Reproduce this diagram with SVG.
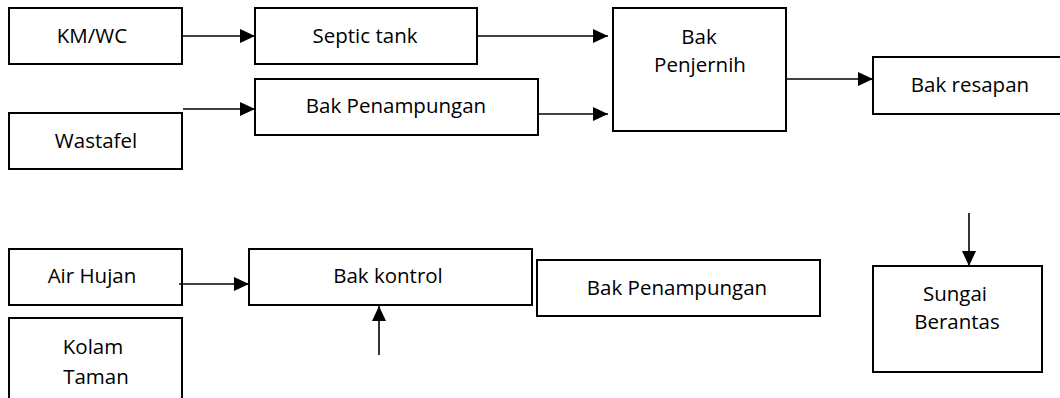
<svg xmlns="http://www.w3.org/2000/svg" width="1060" height="398" viewBox="0 0 1060 398">
<style>
.box{fill:#fff;stroke:#000;stroke-width:2}
.lbl{font-family:"Open Sans","Liberation Sans",sans-serif;font-size:20.5px;fill:#000;text-anchor:middle}
.con{stroke:#000;stroke-width:1.6;fill:none;marker-end:url(#ah)}
</style>
<defs>
<marker id="ah" markerUnits="userSpaceOnUse" markerWidth="16" markerHeight="16" refX="15" refY="7" orient="auto">
<path d="M0,0 L15,7 L0,14 Z" fill="#000"/>
</marker>
</defs>
<rect width="1060" height="398" fill="#fff"/>
<g id="kmwc"><rect class="box" x="9" y="8" width="173" height="56"/><text class="lbl" x="92" y="43">KM/WC</text></g>
<g id="septic"><rect class="box" x="255" y="8" width="222" height="56"/><text class="lbl" x="365" y="43">Septic tank</text></g>
<g id="wastafel"><rect class="box" x="9" y="113" width="173" height="56"/><text class="lbl" x="96" y="148">Wastafel</text></g>
<g id="penampungan1"><rect class="box" x="255" y="79" width="283" height="56"/><text class="lbl" x="396" y="113">Bak Penampungan</text></g>
<g id="penjernih"><rect class="box" x="613" y="8" width="173" height="123"/><text class="lbl" x="699" y="44">Bak</text><text class="lbl" x="700" y="72">Penjernih</text></g>
<g id="resapan"><rect class="box" x="873" y="57" width="200" height="57"/><text class="lbl" x="970" y="92">Bak resapan</text></g>
<g id="airhujan"><rect class="box" x="9" y="249" width="173" height="56"/><text class="lbl" x="92" y="283">Air Hujan</text></g>
<g id="kolam"><rect class="box" x="9" y="318" width="173" height="100"/><text class="lbl" x="93" y="354">Kolam</text><text class="lbl" x="96" y="384">Taman</text></g>
<g id="kontrol"><rect class="box" x="249" y="249" width="283" height="56"/><text class="lbl" x="388" y="283">Bak kontrol</text></g>
<g id="penampungan2"><rect class="box" x="537" y="260" width="283" height="56"/><text class="lbl" x="677" y="295">Bak Penampungan</text></g>
<g id="sungai"><rect class="box" x="873" y="266" width="169" height="106"/><text class="lbl" x="955" y="301">Sungai</text><text class="lbl" x="957" y="329">Berantas</text></g>
<g id="connectors">
<line class="con" x1="183" y1="36" x2="255" y2="36"/>
<line class="con" x1="183" y1="109" x2="255" y2="109"/>
<line class="con" x1="477" y1="36" x2="608" y2="36"/>
<line class="con" x1="538" y1="114" x2="608" y2="114"/>
<line class="con" x1="786" y1="79" x2="873" y2="79"/>
<line class="con" x1="179" y1="284" x2="249" y2="284"/>
<line class="con" x1="379" y1="355" x2="379" y2="306"/>
<line class="con" x1="969" y1="213" x2="969" y2="266"/>
</g>
</svg>
